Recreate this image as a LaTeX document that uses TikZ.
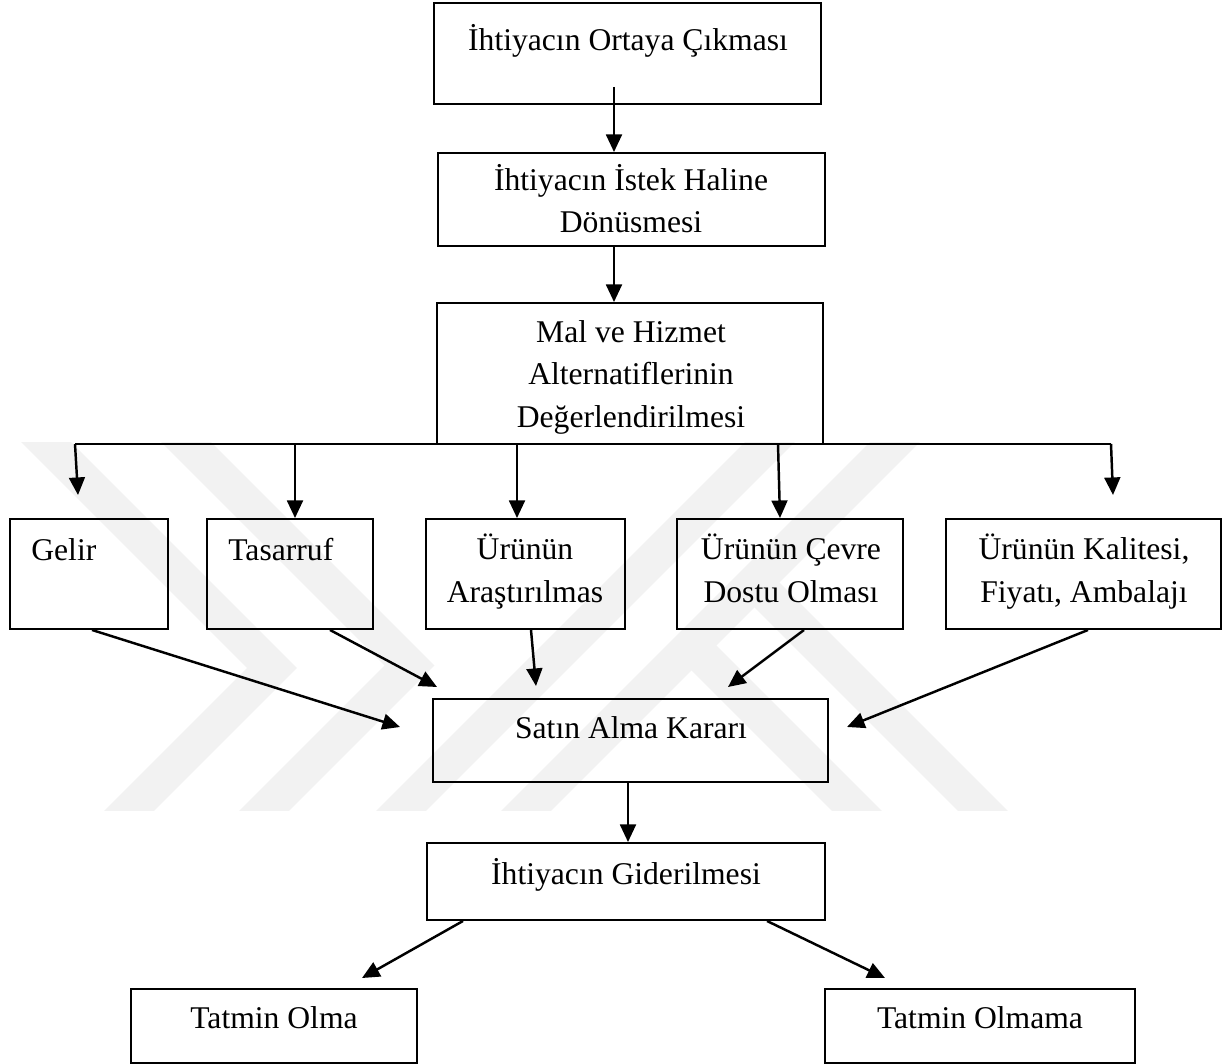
\documentclass[tikz,border=0pt]{standalone}
\usepackage{fontspec}
\setmainfont{Liberation Serif}
\usetikzlibrary{arrows.meta,calc,fit}
\begin{document}
\begin{tikzpicture}[x=0.02cm,y=-0.02cm,
  box/.style={draw, line width=1.1pt, inner sep=0pt},
  txt/.style={font=\fontsize{18}{24}\selectfont, inner sep=0pt, align=center, anchor=base},
  conn/.style={line width=1.4pt},
  arr/.style={line width=1.4pt, -{Triangle[length=10pt,width=9pt]}},
  wm/.style={line width=20pt, draw=black!5, line join=miter, line cap=butt}]
\useasboundingbox (0,0) rectangle (1227,1064);
\fill[white] (0,0) rectangle (1227,1064);
% watermark
\begin{scope}
  \clip (0,442) rectangle (1227,810);
  \draw[wm] (26,422) -- (272,668) -- (110,830);
  \draw[wm] (166,422) -- (409.5,665.5) -- (245,830);
  \draw[wm] (382,830) -- (790,422);
  \draw[wm] (507,830) -- (915,422);
  \draw[wm] (876,830) -- (691.5,645.5);
  \draw[wm] (1002,830) -- (754.5,582.5);
\end{scope}
% boxes
\node[box, fit={(434,3) (821,104)}] (b1) {};
\node[box, fit={(438,153) (825,246)}] (b2) {};
\node[box, fit={(437,303) (823,444)}] (b3) {};
\node[box, fit={(10,519) (168,629)}] (gelir) {};
\node[box, fit={(207,519) (373,629)}] (tasarruf) {};
\node[box, fit={(426,519) (625,629)}] (arast) {};
\node[box, fit={(677,519) (903,629)}] (cevre) {};
\node[box, fit={(946,519) (1221,629)}] (kalite) {};
\node[box, fit={(433,699) (828,782)}] (satin) {};
\node[box, fit={(427,843) (825,920)}] (gider) {};
\node[box, fit={(131,989) (417,1063)}] (olma) {};
\node[box, fit={(825,989) (1135,1063)}] (olmama) {};
% texts (multi-line nodes: base = last line)
\node[txt] (t1) at (628,51) {İhtiyacın Ortaya Çıkması};
\node[txt] (t2) at (631,233) {İhtiyacın İstek Haline\\Dönüsmesi};
\node[txt] (t3) at (631,427) {Mal ve Hizmet\\Alternatiflerinin\\Değerlendirilmesi};
\node[txt, anchor=base west] (t4) at (31,560) {Gelir};
\node[txt, anchor=base west] (t5) at (228,560) {Tasarruf};
\node[txt] (t6) at (525,602) {Ürünün\\Araştırılmas};
\node[txt] (t7) at (791,602) {Ürünün Çevre\\Dostu Olması};
\node[txt] (t8) at (1084,602) {Ürünün Kalitesi,\\Fiyatı, Ambalajı};
\node[txt] (t9) at (631,738) {Satın Alma Kararı};
\node[txt] (t10) at (626,884) {İhtiyacın Giderilmesi};
\node[txt] (t11) at (274,1028) {Tatmin Olma};
\node[txt] (t12) at (980,1028) {Tatmin Olmama};
% junctions and free ends
\coordinate (j1) at (75,444);
\coordinate (j2) at (295,444);
\coordinate (j3) at (517,444);
\coordinate (j4) at (778,444);
\coordinate (j5) at (1111,444);
\coordinate (e1) at (78,495);
\coordinate (e5) at (1113,495);
\coordinate (e6) at (400,727);
\coordinate (e7) at (437,687);
\coordinate (e8) at (536,686);
\coordinate (e9) at (728,687);
\coordinate (e10) at (847,727);
\coordinate (e11) at (362,978);
\coordinate (e12) at (885,978);
% connectors
\draw[arr] ($(b1.south)+(-13.5,-18)$) -- ($(b2.north)+(-17.5,0)$);
\draw[arr] ($(b2.south)+(-17.5,0)$) -- ($(b3.north)+(-16,0)$);
\draw[conn] (j1) -- (j5);
\draw[arr] (j1) -- (e1);
\draw[arr] (j2) -- (tasarruf.north -| j2);
\draw[arr] (j3) -- (arast.north -| j3);
\draw[arr] (j4) -- ($(cevre.north)+(-10,0)$);
\draw[arr] (j5) -- (e5);
\draw[arr] ($(gelir.south)+(3,0)$) -- (e6);
\draw[arr] ($(tasarruf.south)+(40,0)$) -- (e7);
\draw[arr] ($(arast.south)+(5.5,0)$) -- (e8);
\draw[arr] ($(cevre.south)+(14,0)$) -- (e9);
\draw[arr] ($(kalite.south)+(4.5,0)$) -- (e10);
\draw[arr] ($(satin.south)+(-2.5,0)$) -- ($(gider.north)+(2,0)$);
\draw[arr] ($(gider.south)+(-163,0)$) -- (e11);
\draw[arr] ($(gider.south)+(141,0)$) -- (e12);
\end{tikzpicture}
\end{document}
